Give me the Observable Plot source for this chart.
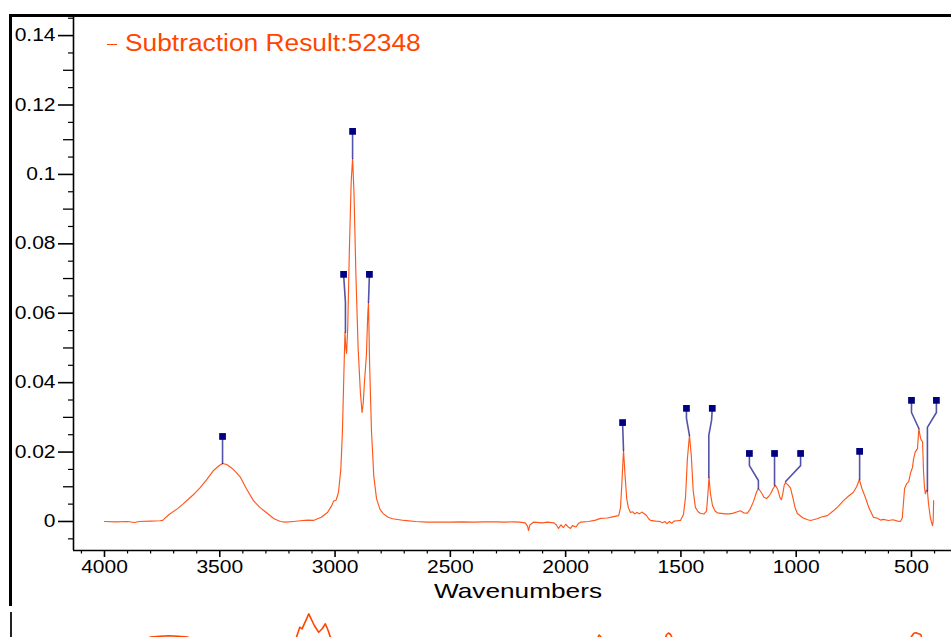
<!DOCTYPE html>
<html><head><meta charset="utf-8">
<script src="https://cdn.jsdelivr.net/npm/d3@7"></script>
<script src="https://cdn.jsdelivr.net/npm/@observablehq/plot@0.6"></script>
<style>
html,body{margin:0;padding:0;background:#fff;}
body{width:951px;height:637px;overflow:hidden;position:relative;font-family:"Liberation Sans",Arial,sans-serif;}
#frame{position:absolute;left:9px;top:14px;width:980px;height:592px;box-sizing:border-box;border-left:3px solid #000;border-top:3px solid #000;}
#frame2{position:absolute;left:10px;top:612px;width:980px;height:40px;box-sizing:border-box;border-left:2px solid #222;}
#main{position:absolute;left:0;top:0;}
#second{position:absolute;left:0;top:600px;}
#legend{position:absolute;left:107px;top:28px;color:#ff4500;font-family:"Liberation Sans",Arial,sans-serif;font-size:23px;line-height:30px;white-space:nowrap;display:flex;align-items:center;}
#legend .sw{display:inline-block;width:10px;height:1.2px;background:#ff4500;margin-right:8px;margin-top:3px;}
#legend .name{display:inline-block;transform-origin:0 50%;transform:scaleX(1.145);}
</style></head>
<body>
<div id="frame"></div>
<div id="frame2"></div>
<div id="second"></div>
<div id="main"></div>
<div id="legend"><span class="sw"></span><span class="name" id="legendName"></span></div>
<script>
// ---- data ----
const seriesName = "Subtraction Result:52348";
const xTitle = "Wavenumbers";
const xDomain = [4134.4, 326.5];
const yDomain = [-0.00836, 0.1455];
const xMajorTicks = [4000, 3500, 3000, 2500, 2000, 1500, 1000, 500];
const xMinorTicks = d3.range(4100, 399, -100).filter(v => v % 500 !== 0);
const yMajorTicks = [0, 0.02, 0.04, 0.06, 0.08, 0.1, 0.12, 0.14];
const yMidTicks = [0.01, 0.03, 0.05, 0.07, 0.09, 0.11, 0.13];
const yMinorTicks = [-0.005, 0.005, 0.015, 0.025, 0.035, 0.045, 0.055, 0.065, 0.075, 0.085, 0.095, 0.105, 0.115, 0.125, 0.135, 0.145];

// wavenumber (cm-1), absorbance
const wavenumbers = [4000,3950,3900,3870,3850,3800,3760,3748,3720,3683,3660,3640,3610,3584,3555,3527,3505,3488,3470,3450,3430,3410,3385,3354,3325,3293,3265,3237,3215,3180,3150,3120,3094,3060,3033,3015,3007,2995,2985,2975,2968,2962,2957,2953,2950,2945,2938,2930,2924,2918,2910,2900,2890,2883,2878,2872,2864,2858,2855,2850,2842,2832,2820,2805,2790,2770,2750,2700,2650,2600,2550,2500,2450,2400,2350,2300,2265,2230,2200,2175,2165,2161,2155,2140,2100,2080,2050,2040,2031,2020,2010,2000,1990,1979,1970,1955,1945,1935,1900,1870,1849,1820,1792,1770,1762,1756,1749,1742,1735,1728,1719,1710,1700,1690,1680,1670,1660,1650,1640,1632,1610,1590,1580,1570,1560,1550,1540,1530,1515,1502,1489,1480,1472,1463,1455,1447,1437,1425,1415,1400,1389,1383,1378,1372,1363,1352,1342,1310,1290,1272,1255,1242,1228,1212,1200,1185,1172,1164,1150,1140,1129,1120,1111,1100,1090,1080,1070,1064,1058,1052,1046,1035,1025,1015,1005,995,970,950,938,910,890,865,840,820,795,770,752,738,726,715,700,685,665,650,635,622,600,580,560,548,540,530,520,512,504,496,491,484,474,468,461,455,452,448,444,440,435,431,426,418,412,409,406,404];
const absorbance = [0.0000,-0.0001,0.0000,-0.0003,0.0000,0.0001,0.0002,0.0003,0.0020,0.0037,0.0050,0.0062,0.0080,0.0098,0.0122,0.0147,0.0160,0.0167,0.0164,0.0155,0.0142,0.0127,0.0095,0.0060,0.0040,0.0023,0.0008,0.0000,-0.0002,0.0000,0.0002,0.0004,0.0003,0.0012,0.0026,0.0045,0.0058,0.0062,0.0085,0.0150,0.0260,0.0420,0.0545,0.0500,0.0484,0.0560,0.0780,0.0980,0.1046,0.0950,0.0720,0.0500,0.0370,0.0314,0.0340,0.0406,0.0480,0.0600,0.0631,0.0450,0.0260,0.0130,0.0065,0.0035,0.0022,0.0012,0.0008,0.0003,0.0000,-0.0002,-0.0002,-0.0002,-0.0001,-0.0002,-0.0001,-0.0001,-0.0002,-0.0001,-0.0002,-0.0004,-0.0014,-0.0026,-0.0010,-0.0002,-0.0004,-0.0002,-0.0004,-0.0010,-0.0020,-0.0010,-0.0018,-0.0008,-0.0015,-0.0020,-0.0012,-0.0016,-0.0006,-0.0002,0.0000,0.0004,0.0009,0.0010,0.0014,0.0017,0.0040,0.0110,0.0205,0.0130,0.0065,0.0040,0.0026,0.0028,0.0022,0.0026,0.0022,0.0027,0.0023,0.0018,0.0008,0.0003,0.0001,0.0000,-0.0004,0.0000,-0.0006,0.0000,-0.0005,0.0001,0.0002,0.0003,0.0020,0.0070,0.0180,0.0248,0.0190,0.0090,0.0040,0.0028,0.0023,0.0022,0.0030,0.0080,0.0127,0.0080,0.0046,0.0030,0.0025,0.0022,0.0022,0.0024,0.0028,0.0031,0.0025,0.0024,0.0035,0.0058,0.0085,0.0095,0.0082,0.0070,0.0066,0.0072,0.0080,0.0095,0.0104,0.0092,0.0068,0.0063,0.0080,0.0105,0.0112,0.0105,0.0097,0.0070,0.0040,0.0023,0.0010,0.0005,0.0003,0.0008,0.0013,0.0017,0.0030,0.0042,0.0060,0.0075,0.0084,0.0100,0.0121,0.0095,0.0069,0.0040,0.0012,0.0010,0.0004,0.0006,0.0003,0.0005,0.0001,0.0000,0.0010,0.0095,0.0110,0.0115,0.0140,0.0155,0.0180,0.0200,0.0210,0.0268,0.0240,0.0232,0.0230,0.0147,0.0100,0.0080,0.0090,0.0088,0.0050,0.0010,-0.0005,-0.0012,0.0000,0.0060];

// peak annotations: label square position and leader path (wavenumber, absorbance)
const peakIds   = ["p3488","p2955","p2924","p2855","p1749","p1463","p1378","p1164","p1090","p1047","p726","p470","p431"];
const labelX    = [3488, 2963, 2924, 2851, 1753, 1476, 1364, 1203, 1094, 981, 725, 500, 392];
const labelY    = [0.0245, 0.0712, 0.1124, 0.0712, 0.0285, 0.0326, 0.0326, 0.0196, 0.0196, 0.0196, 0.0202, 0.0349, 0.0349];
const leaderPaths = [
  [[3488,0.0245],[3488,0.0167]],
  [[2963,0.0712],[2955,0.0631],[2955,0.0545]],
  [[2924,0.1124],[2924,0.1046]],
  [[2851,0.0712],[2855,0.0631]],
  [[1753,0.0285],[1749,0.0205]],
  [[1476,0.0326],[1476,0.0297],[1463,0.0248]],
  [[1364,0.0326],[1367,0.0292],[1379,0.0248],[1379,0.0127]],
  [[1203,0.0196],[1203,0.0161],[1164,0.0118],[1164,0.0095]],
  [[1094,0.0196],[1094,0.0104]],
  [[981,0.0196],[981,0.0161],[1046,0.0115]],
  [[725,0.0202],[725,0.0121]],
  [[500,0.0349],[500,0.0314],[468,0.0268]],
  [[392,0.0349],[392,0.0314],[431,0.0271],[431,0.0088]]
];

// partially visible spectrum of the panel below (normalised units)
const wavenumbers2 = [4000,3900,3850,3820,3800,3760,3722,3680,3640,3615,3590,3500,3300,3200,3180,3168,3153,3143,3114,3090,3071,3055,3042,3030,3020,3000,2900,2500,1900,1870,1860,1855,1848,1835,1800,1600,1575,1562,1554,1545,1532,1510,1000,600,520,500,490,480,470,460,445,420,400];
const values2 = [0.40,0.45,0.52,0.60,0.635,0.642,0.648,0.642,0.635,0.60,0.52,0.45,0.42,0.50,0.58,0.63,0.733,0.717,0.867,0.75,0.683,0.72,0.767,0.70,0.63,0.50,0.42,0.40,0.45,0.55,0.63,0.655,0.64,0.55,0.46,0.48,0.58,0.66,0.675,0.66,0.60,0.50,0.40,0.45,0.56,0.64,0.672,0.678,0.668,0.66,0.56,0.45,0.40];

// ---- tables ----
const spectrum = wavenumbers.map((w, i) => ({w, a: absorbance[i]}));
const labels = peakIds.map((id, i) => ({id, w: labelX[i], a: labelY[i]}));
const leaders = leaderPaths.flatMap((pts, i) => pts.map(([w, a]) => ({id: peakIds[i], w, a})));
const spectrum2 = wavenumbers2.map((w, i) => ({w, a: values2[i]}));

const lineColor = "#ff4500";
const font = "'Liberation Sans', Arial, sans-serif";
document.getElementById("legendName").textContent = seriesName;

const main = Plot.plot({
  width: 951, height: 600,
  marginLeft: 73, marginRight: 0, marginTop: 16, marginBottom: 50,
  style: {fontFamily: font, fontSize: "17.5px", color: "#000", background: "transparent", overflow: "visible"},
  x: {domain: xDomain},
  y: {domain: yDomain},
  marks: [
    Plot.axisY(yMinorTicks, {tickSize: 5, tickFormat: () => "", strokeWidth: 1.2, label: null}),
    Plot.axisY(yMidTicks, {tickSize: 10, tickFormat: () => "", strokeWidth: 1.3, label: null}),
    Plot.axisY(yMajorTicks, {tickSize: 15, tickPadding: 3, strokeWidth: 1.6, fontSize: 17.5, label: null,
      tickFormat: d => String(+d.toFixed(2))}),
    Plot.axisX(xMinorTicks, {tickSize: 3.5, tickFormat: () => "", strokeWidth: 1.2, label: null}),
    Plot.axisX(xMajorTicks, {tickSize: 7, tickPadding: 3, strokeWidth: 1.6, fontSize: 17.5, label: null, tickFormat: d => String(d)}),
    Plot.ruleX([xDomain[0]], {stroke: "#000", strokeWidth: 1.6}),
    Plot.ruleY([yDomain[0]], {stroke: "#000", strokeWidth: 1.6}),
    Plot.line(spectrum, {x: "w", y: "a", stroke: lineColor, strokeWidth: 1.15, strokeOpacity: 0.9}),
    Plot.line(leaders, {x: "w", y: "a", z: "id", stroke: "#1a1a8c", strokeOpacity: 0.75, strokeWidth: 1.6}),
    Plot.dot(labels, {x: "w", y: "a", symbol: "square", r: 3.8, fill: "#000080", stroke: null}),
    Plot.text([xTitle], {frameAnchor: "bottom", dx: 5.5, dy: 40.3, textAnchor: "middle", lineAnchor: "middle", fill: "#000", fontSize: 21})
  ]
});
document.getElementById("main").appendChild(main);

const second = Plot.plot({
  width: 951, height: 100,
  marginLeft: 73, marginRight: 0, marginTop: 0, marginBottom: 0,
  style: {background: "transparent", overflow: "visible"},
  x: {domain: xDomain, axis: null},
  y: {domain: [0, 1], axis: null},
  marks: [
    Plot.line(spectrum2, {x: "w", y: "a", stroke: lineColor, strokeWidth: 1.6})
  ]
});
document.getElementById("second").appendChild(second);

// widen text to match the reference's wide rendering
main.querySelectorAll("text").forEach(t => {
  const s = t.textContent;
  const w = t.getComputedTextLength();
  let target = null;
  if (s === xTitle) target = 168;
  else if (s !== "") target = w * 1.2;
  if (target && w > 0) {
    t.setAttribute("textLength", target);
    t.setAttribute("lengthAdjust", "spacingAndGlyphs");
  }
});
</script>
</body></html>
